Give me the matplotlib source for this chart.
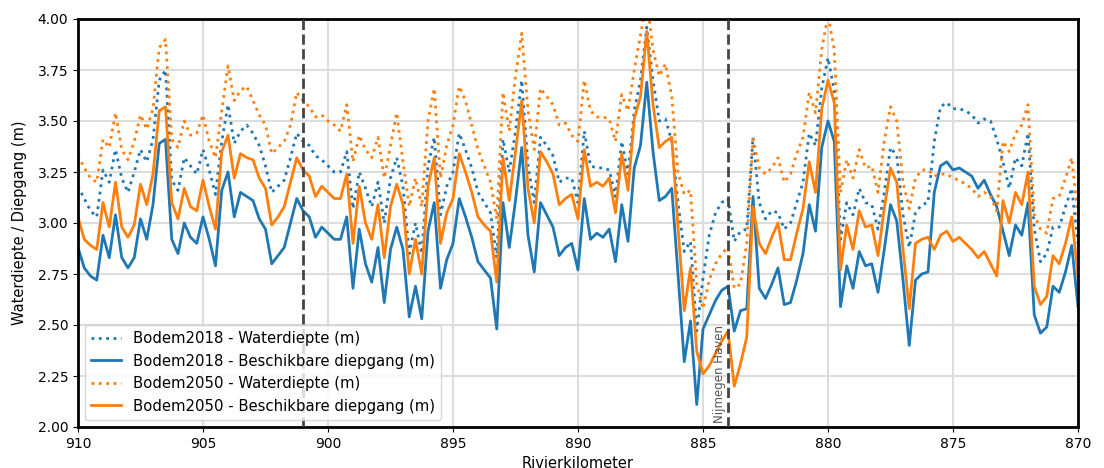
import numpy as np
import matplotlib
matplotlib.use("Agg")
import matplotlib.pyplot as plt

# River km: 910 -> 870 every 0.25 km
km = np.round(np.linspace(910, 870, 161), 2)

bodem2018_beschikbaar = [
    2.88, 2.78, 2.74, 2.72, 2.94, 2.83, 3.04, 2.83, 2.78, 2.83,
    3.02, 2.92, 3.09, 3.39, 3.41, 2.92, 2.85, 3.00, 2.93, 2.90,
    3.03, 2.92, 2.79, 3.16, 3.25, 3.03, 3.15, 3.13, 3.11, 3.02,
    2.97, 2.80, 2.84, 2.88, 3.00, 3.12, 3.06, 3.03, 2.93, 2.98,
    2.95, 2.92, 2.92, 3.03, 2.68, 2.97, 2.80, 2.71, 2.88, 2.61,
    2.87, 2.98, 2.87, 2.54, 2.69, 2.53, 2.96, 3.10, 2.68, 2.82,
    2.90, 3.12, 3.03, 2.93, 2.81, 2.77, 2.73, 2.48, 3.10, 2.88,
    3.11, 3.37, 2.94, 2.76, 3.10, 3.04, 2.98, 2.84, 2.88, 2.90,
    2.77, 3.12, 2.92, 2.95, 2.93, 2.97, 2.81, 3.09, 2.91, 3.27,
    3.38, 3.69, 3.35, 3.11, 3.13, 3.17, 2.75, 2.32, 2.52, 2.11,
    2.48, 2.55, 2.62, 2.67, 2.69, 2.47, 2.57, 2.58, 3.13, 2.68,
    2.63, 2.70, 2.78, 2.60, 2.61, 2.72, 2.85, 3.09, 2.96, 3.37,
    3.50, 3.40, 2.59, 2.79, 2.68, 2.86, 2.79, 2.80, 2.66, 2.87,
    3.09, 3.01, 2.72, 2.40, 2.72, 2.75, 2.76, 3.15, 3.28, 3.30,
    3.26, 3.27, 3.25, 3.23, 3.17, 3.21, 3.14, 3.08, 2.96, 2.84,
    2.99, 2.94, 3.10, 2.55, 2.46, 2.49, 2.69, 2.66, 2.76, 2.89,
    2.59,
]

bodem2050_beschikbaar = [
    3.03, 2.92, 2.89, 2.87, 3.10, 2.98, 3.20, 2.98, 2.93, 2.99,
    3.19, 3.09, 3.24, 3.55, 3.57, 3.10, 3.02, 3.17, 3.08, 3.06,
    3.21, 3.08, 2.97, 3.35, 3.43, 3.22, 3.34, 3.32, 3.31, 3.22,
    3.17, 2.99, 3.03, 3.08, 3.20, 3.32, 3.26, 3.23, 3.13, 3.18,
    3.15, 3.12, 3.12, 3.24, 2.90, 3.18, 3.00, 2.92, 3.09, 2.83,
    3.08, 3.19, 3.09, 2.75, 2.92, 2.75, 3.18, 3.32, 2.90, 3.05,
    3.12, 3.34, 3.25, 3.15, 3.03, 2.99, 2.96, 2.71, 3.32, 3.11,
    3.35, 3.60, 3.17, 3.00, 3.35, 3.30, 3.24, 3.09, 3.12, 3.14,
    3.02, 3.36, 3.18, 3.20, 3.18, 3.22, 3.05, 3.34, 3.16, 3.51,
    3.62, 3.94, 3.58, 3.37, 3.40, 3.42, 2.98, 2.57, 2.78, 2.37,
    2.26, 2.30, 2.36, 2.42, 2.47, 2.20, 2.31, 2.44, 3.08, 2.90,
    2.85, 2.93, 3.00, 2.82, 2.82, 2.95, 3.07, 3.30, 3.15, 3.56,
    3.70, 3.59, 2.77, 2.99, 2.87, 3.06, 2.98, 2.99, 2.84, 3.07,
    3.27, 3.20, 2.87, 2.58, 2.90, 2.92, 2.93, 2.87, 2.94, 2.96,
    2.91, 2.93, 2.90, 2.87, 2.83, 2.86, 2.80, 2.74, 3.11, 3.00,
    3.15, 3.09, 3.25, 2.69, 2.60, 2.64, 2.84, 2.80, 2.90, 3.03,
    2.74,
]

bodem2018_waterdiepte = [
    3.18, 3.12, 3.06, 3.03, 3.26, 3.20, 3.36, 3.22, 3.15, 3.25,
    3.36, 3.30, 3.41, 3.70, 3.75, 3.21, 3.16, 3.32, 3.28, 3.24,
    3.36, 3.26, 3.14, 3.40, 3.58, 3.39, 3.45, 3.48, 3.44, 3.38,
    3.28, 3.15, 3.18, 3.21, 3.32, 3.44, 3.40, 3.38, 3.33, 3.31,
    3.28, 3.25, 3.25, 3.35, 3.07, 3.25, 3.17, 3.08, 3.20, 3.00,
    3.22, 3.32, 3.18, 2.85, 3.00, 2.85, 3.28, 3.42, 3.04, 3.18,
    3.25, 3.44, 3.36, 3.27, 3.15, 3.10, 3.05, 2.83, 3.41, 3.25,
    3.45, 3.70, 3.28, 3.10, 3.42, 3.38, 3.33, 3.20, 3.22, 3.22,
    3.10, 3.45, 3.28, 3.27, 3.27, 3.26, 3.13, 3.40, 3.24, 3.55,
    3.70, 3.96, 3.70, 3.50, 3.51, 3.40, 3.10, 2.86, 2.91, 2.47,
    2.73, 2.94, 3.05, 3.10, 3.12, 2.91, 2.96, 2.97, 3.42, 3.10,
    3.02, 3.06, 3.05, 2.97, 3.00, 3.10, 3.20, 3.44, 3.38, 3.66,
    3.81, 3.65, 2.92, 3.10, 3.04, 3.17, 3.10, 3.09, 2.97, 3.15,
    3.37, 3.33, 3.04, 2.88, 3.05, 3.09, 3.10, 3.40, 3.57, 3.59,
    3.56, 3.56, 3.55, 3.53, 3.49, 3.51, 3.50, 3.41, 3.30, 3.17,
    3.32, 3.28, 3.44, 2.97, 2.81, 2.85, 2.98, 2.98, 3.08, 3.17,
    2.90,
]

bodem2050_waterdiepte = [
    3.33, 3.27, 3.22, 3.20, 3.41, 3.37, 3.54, 3.36, 3.31, 3.40,
    3.53, 3.46, 3.56, 3.86, 3.90, 3.41, 3.37, 3.50, 3.43, 3.44,
    3.53, 3.40, 3.32, 3.55, 3.77, 3.60, 3.65, 3.67, 3.60, 3.53,
    3.48, 3.34, 3.37, 3.40, 3.48, 3.64, 3.60, 3.57, 3.52, 3.53,
    3.50, 3.48, 3.45, 3.58, 3.30, 3.43, 3.36, 3.32, 3.42, 3.22,
    3.38, 3.54, 3.30, 3.08, 3.22, 3.08, 3.50, 3.66, 3.22, 3.38,
    3.48, 3.67, 3.60, 3.48, 3.36, 3.28, 3.20, 3.02, 3.64, 3.45,
    3.72, 3.93, 3.55, 3.36, 3.66, 3.62, 3.58, 3.48, 3.49, 3.43,
    3.40, 3.70, 3.55, 3.52, 3.52, 3.51, 3.40, 3.63, 3.55, 3.75,
    3.92, 4.10, 3.85, 3.72, 3.78, 3.62, 3.25, 3.14, 3.16, 2.70,
    2.58, 2.72, 2.80, 2.85, 2.88, 2.68, 2.70, 2.90, 3.41, 3.27,
    3.24, 3.27, 3.32, 3.20, 3.24, 3.34, 3.42, 3.64, 3.54, 3.85,
    4.02, 3.85, 3.15, 3.31, 3.22, 3.36, 3.27, 3.28, 3.15, 3.40,
    3.57, 3.50, 3.20, 3.07, 3.22, 3.26, 3.26, 3.23, 3.24, 3.24,
    3.22, 3.21, 3.19, 3.17, 3.13, 3.15, 3.13, 3.06, 3.40, 3.35,
    3.44, 3.48, 3.58, 3.04, 2.97, 2.95, 3.12, 3.13, 3.22, 3.32,
    3.03,
]

markers_km = [901, 884]
marker_label = "Nijmegen Haven"

fig = plt.figure(figsize=(11.04, 4.68), dpi=100)
ax = fig.add_axes([78 / 1104, 1 - 427 / 468, 1000 / 1104, 408 / 468])

blue = "#1f77b4"
orange = "#ff7f0e"
ax.plot(km, bodem2018_waterdiepte, ls=":", color=blue, lw=2,
        label="Bodem2018 - Waterdiepte (m)")
ax.plot(km, bodem2018_beschikbaar, ls="-", color=blue, lw=2,
        label="Bodem2018 - Beschikbare diepgang (m)")
ax.plot(km, bodem2050_waterdiepte, ls=":", color=orange, lw=2,
        label="Bodem2050 - Waterdiepte (m)")
ax.plot(km, bodem2050_beschikbaar, ls="-", color=orange, lw=2,
        label="Bodem2050 - Beschikbare diepgang (m)")

for m in markers_km:
    ax.axvline(m, color="#444444", ls="--", lw=2, zorder=3)
ax.text(markers_km[1] + 0.07, 2.02, marker_label, rotation=90, ha="right",
        va="bottom", fontsize=8.5, color="#555555")

ax.set_xlim(910, 870)
ax.set_ylim(2.0, 4.0)
ax.set_xticks(np.arange(910, 869, -5))
ax.set_yticks(np.arange(2.0, 4.01, 0.25))
ax.yaxis.set_major_formatter(matplotlib.ticker.FormatStrFormatter("%.2f"))
ax.tick_params(labelsize=10)
ax.grid(True, color="#dddddd", lw=1.5)
ax.set_axisbelow(True)
for s in ax.spines.values():
    s.set_linewidth(2)
    s.set_color("black")

ax.set_xlabel("Rivierkilometer", fontsize=10.5)
ax.set_ylabel("Waterdiepte / Diepgang (m)", fontsize=10.5, labelpad=8)
ax.legend(loc="lower left", fontsize=10.75, handlelength=2.0)

fig.savefig("out.png", dpi=100)
